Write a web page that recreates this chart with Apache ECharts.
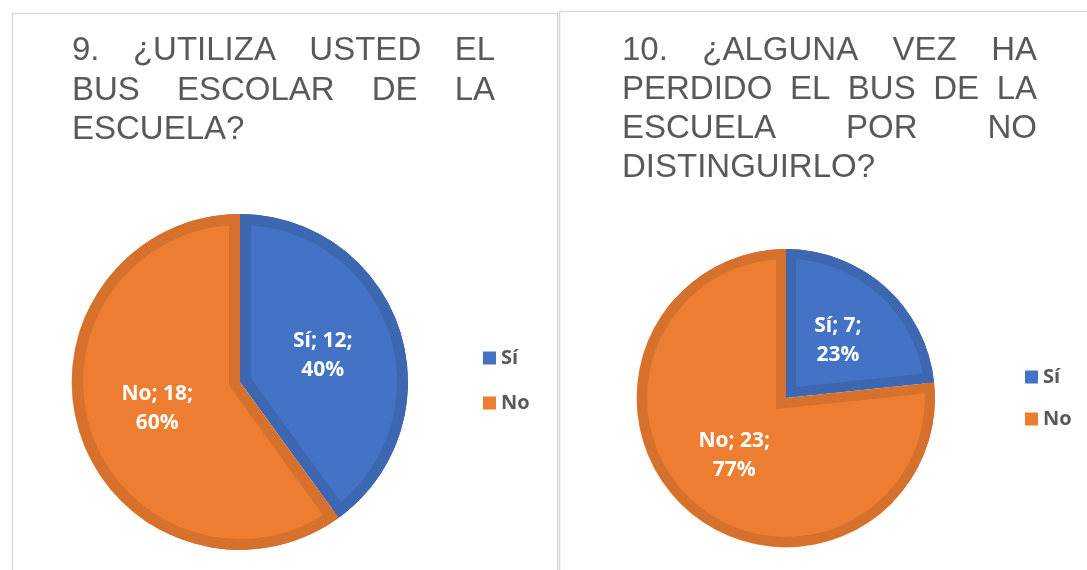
<!DOCTYPE html>
<html><head><meta charset="utf-8">
<script src="https://cdn.jsdelivr.net/npm/echarts@6/dist/echarts.min.js"></script>
<style>html,body{margin:0;padding:0;background:#fff}#c{width:1087px;height:570px}</style>
</head><body><div id="c"></div>
<script>
// ---- data ----
const categories = ['Sí', 'No'];
const chart1Values = [12, 18];
const chart2Values = [7, 23];
const chart1TitleLines = [['9.', '¿UTILIZA', 'USTED', 'EL'], ['BUS', 'ESCOLAR', 'DE', 'LA'], ['ESCUELA?']];
const chart2TitleLines = [['10.', '¿ALGUNA', 'VEZ', 'HA'], ['PERDIDO', 'EL', 'BUS', 'DE', 'LA'], ['ESCUELA', 'POR', 'NO'], ['DISTINGUIRLO?']];

// ---- style ----
const fillColors = ['#4472C4', '#ED7D31'];
const edgeColors = ['#3D67B0', '#D5712C'];
const TITLE_FONT_SIZE = 33;
const TITLE_FAMILY = '"Liberation Sans", Arial, sans-serif';
const LABEL_FAMILY = '"Open Sans", sans-serif';

const chart = echarts.init(document.getElementById('c'), null, {renderer: 'canvas'});

function pieLayers(values, cx, cy, R, d) {
  const total = values.reduce((a, b) => a + b, 0);
  const series = [];
  // dark base
  series.push({
    type: 'pie', center: [cx, cy], radius: R, silent: true, z: 1,
    label: {show: false}, labelLine: {show: false}, emphasis: {disabled: true},
    data: categories.map((n, j) => ({name: n, value: values[j], itemStyle: {color: edgeColors[j]}}))
  });
  let maxOver = 0;
  values.forEach((v, i) => {
    const half = Math.PI * v / total;
    const s = d / Math.sin(half);
    const c = Math.cos(half);
    let r = R - s;
    const need = -s * c + Math.sqrt(Math.max(0, s * s * c * c - s * s + (R - d) * (R - d)));
    if (need > r) r = need;
    maxOver = Math.max(maxOver, s + r - R);
    series.push({
      type: 'pie', center: [cx, cy], radius: r, silent: true, z: 2,
      selectedMode: 'multiple', selectedOffset: s,
      label: {show: false}, labelLine: {show: false}, emphasis: {disabled: true},
      data: categories.map((n, j) => ({
        name: n, value: values[j], selected: j === i,
        itemStyle: {color: j === i ? fillColors[j] : 'rgba(0,0,0,0)'}
      }))
    });
  });
  // dark outer ring
  series.push({
    type: 'pie', center: [cx, cy], radius: [R - d, R], silent: true, z: 3,
    label: {show: false}, labelLine: {show: false}, emphasis: {disabled: true},
    data: categories.map((n, j) => ({name: n, value: values[j], itemStyle: {color: edgeColors[j]}}))
  });
  // white cover ring for overshoot
  if (maxOver > 0) {
    series.push({
      type: 'pie', center: [cx, cy], radius: [R + 0.4, R + maxOver + 3], silent: true, z: 3,
      label: {show: false}, labelLine: {show: false}, emphasis: {disabled: true},
      data: [{name: '_', value: 1, itemStyle: {color: '#ffffff'}}]
    });
  }
  // labels
  series.push({
    type: 'pie', center: [cx, cy], radius: R, silent: true, z: 4, percentPrecision: 0,
    emphasis: {disabled: true},
    label: {
      show: true, position: 'inside', formatter: '{b}; {c};\n{d}%',
      color: '#ffffff', fontFamily: LABEL_FAMILY, fontWeight: 'bold', fontSize: 21, lineHeight: 29
    },
    labelLine: {show: false},
    data: categories.map((n, j) => ({name: n, value: values[j], itemStyle: {color: 'rgba(0,0,0,0)'}}))
  });
  return series;
}

const mctx = document.createElement('canvas').getContext('2d');
mctx.font = TITLE_FONT_SIZE + 'px ' + TITLE_FAMILY;
function titleElements(lines, left, right, yCenters) {
  const els = [];
  lines.forEach((words, li) => {
    const widths = words.map(w => mctx.measureText(w).width);
    const sum = widths.reduce((a, b) => a + b, 0);
    const last = li === lines.length - 1;
    const gap = (last || words.length < 2) ? mctx.measureText(' ').width : (right - left - sum) / (words.length - 1);
    let x = left;
    words.forEach((w, wi) => {
      els.push({
        type: 'text', x: x, y: yCenters[li], silent: true,
        style: {text: w, fill: '#595959', fontSize: TITLE_FONT_SIZE, fontFamily: TITLE_FAMILY,
                verticalAlign: 'middle', textVerticalAlign: 'middle', align: 'left'}
      });
      x += widths[wi] + gap;
    });
  });
  return els;
}

const graphics = [
  {type: 'rect', silent: true, shape: {x: 12.5, y: 13.5, width: 545, height: 620}, style: {fill: 'none', stroke: '#d9d9d9', lineWidth: 1.5}},
  {type: 'rect', silent: true, shape: {x: 559.5, y: 11.5, width: 600, height: 620}, style: {fill: 'none', stroke: '#d9d9d9', lineWidth: 1.5}}
].concat(titleElements(chart1TitleLines, 72, 495, [51, 90.5, 130]))
 .concat(titleElements(chart2TitleLines, 622, 1037, [51, 90, 129, 168]));

function legendData() {
  return categories.map((n, j) => ({name: n, itemStyle: {color: fillColors[j]}}));
}
const legendText = {color: '#595959', fontFamily: LABEL_FAMILY, fontWeight: 'bold', fontSize: 20, lineHeight: 20};

chart.setOption({
  animation: false,
  backgroundColor: '#ffffff',
  graphic: graphics,
  legend: [
    {orient: 'vertical', left: 483, top: 348, padding: 0, itemWidth: 13, itemHeight: 13, itemGap: 25, icon: 'rect',
     selectedMode: false, data: legendData(), textStyle: legendText},
    {orient: 'vertical', left: 1025, top: 367, padding: 0, itemWidth: 13, itemHeight: 13, itemGap: 22, icon: 'rect',
     selectedMode: false, data: legendData(), textStyle: legendText}
  ],
  series: pieLayers(chart1Values, 240, 382, 168, 11).concat(pieLayers(chart2Values, 786, 398, 149, 10))
});
</script>
</body></html>
